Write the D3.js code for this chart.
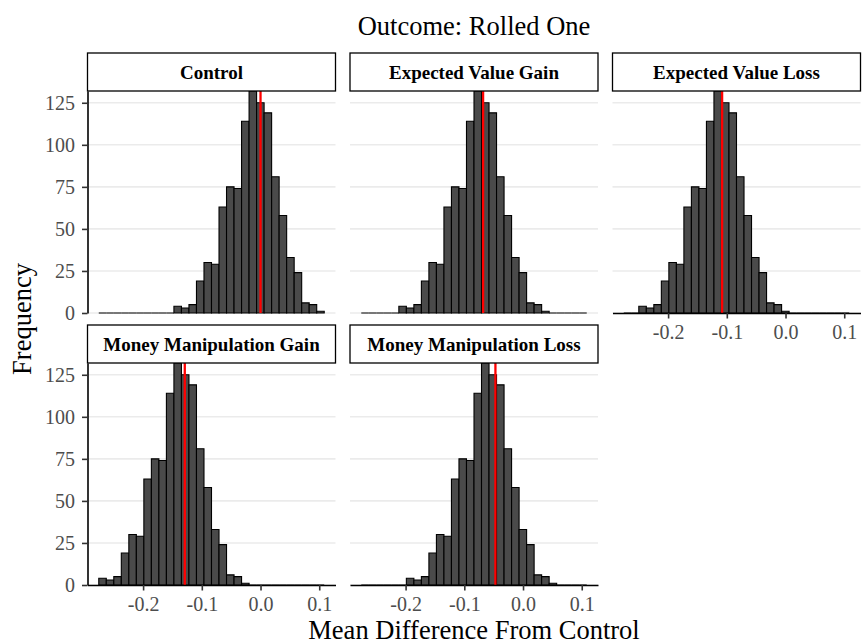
<!DOCTYPE html>
<html>
<head>
<meta charset="utf-8">
<script src="https://cdn.jsdelivr.net/npm/d3@7"></script>
<style>
body { margin: 0; background: #fff; }
svg, svg text { font-family: "Liberation Serif", "Times New Roman", Times, serif; }
</style>
</head>
<body>
<div id="chart"></div>
<script>
// histogram counts per facet, 30 bins shared by all facets
var panels = ["Control", "Expected Value Gain", "Expected Value Loss",
              "Money Manipulation Gain", "Money Manipulation Loss"];
var controlCounts = [0,0,0,0,0,0,0,0,0,0, 4,3,5,19,30,29,63,75,74,114,132,125,119,81,58,33,24,6,5,1];
var evGainCounts  = [0,0,0,0,0, 4,3,5,19,30,29,63,75,74,114,132,125,119,81,58,33,24,6,5,1, 0,0,0,0,0];
var evLossCounts  = [0,0, 4,3,5,19,30,29,63,75,74,114,132,125,119,81,58,33,24,6,5,1, 0,0,0,0,0,0,0,0];
var mmGainCounts  = [4,3,5,19,30,29,63,75,74,114,132,125,119,81,58,33,24,6,5,1, 0,0,0,0,0,0,0,0,0,0];
var mmLossCounts  = [0,0,0,0,0,0, 4,3,5,19,30,29,63,75,74,114,132,125,119,81,58,33,24,6,5,1, 0,0,0,0];
var counts = [controlCounts, evGainCounts, evLossCounts, mmGainCounts, mmLossCounts];
var observed = [0.000, -0.068, -0.108, -0.129, -0.047];
var binStart = -0.2755, binWidth = 0.0128, nBins = 30;
var xTicks = [-0.2, -0.1, 0.0, 0.1];
var yTicks = [0, 25, 50, 75, 100, 125];
var yMax = 132;

var serif = "'Liberation Serif', 'Times New Roman', Times, serif";
var width = 862, height = 644;
var left = 87.5, pw = 248, gapX = 14.5;
var stripTop = [53, 325], stripH = 38, ph = 222;

var svg = d3.select("#chart").append("svg")
            .attr("width", width)
            .attr("height", height)
            .attr("font-family", serif);

// ggplot style 5% expansion on the binned range
var x = d3.scaleLinear()
          .domain([binStart - 1.5 * binWidth, binStart + (nBins + 1.5) * binWidth])
          .range([0, pw]);
var y = d3.scaleLinear()
          .domain([0, yMax])
          .range([ph, 0]);

svg.append("text")
   .attr("x", left + (3 * pw + 2 * gapX) / 2)
   .attr("y", 35)
   .attr("text-anchor", "middle")
   .attr("font-family", serif)
   .style("font-size", "26.5px")
   .text("Outcome: Rolled One");

panels.forEach(function(name, i) {
    var col = i % 3, row = Math.floor(i / 3);
    var px = left + col * (pw + gapX);
    var sy = stripTop[row];
    var py = sy + stripH;
    var g = svg.append("g").attr("transform", "translate(" + px + "," + py + ")");

    g.selectAll(".grid").data(yTicks).enter().append("line")
        .attr("x1", 0).attr("x2", pw)
        .attr("y1", d => y(d)).attr("y2", d => y(d))
        .attr("stroke", "#EBEBEB")
        .attr("stroke-width", 1.6);

    g.selectAll(".bar").data(counts[i]).enter().append("path")
        .attr("d", function(d, j) {
            var x0 = x(binStart + j * binWidth), x1 = x(binStart + (j + 1) * binWidth);
            return "M" + x0 + "," + y(0) + "V" + y(d) + "H" + x1 + "V" + y(0) + "Z";
        })
        .attr("fill", "#4A4A4A")
        .attr("stroke", "#000")
        .attr("stroke-width", 1.1);

    g.append("line")
        .attr("x1", x(observed[i])).attr("x2", x(observed[i]))
        .attr("y1", 0).attr("y2", ph)
        .attr("stroke", "#FF0000")
        .attr("stroke-width", 2.3);

    if (col == 0) {
        var ya = g.append("g")
            .call(d3.axisLeft(y).tickValues(yTicks).tickSize(5.5).tickSizeOuter(0).tickPadding(7));
        styleAxis(ya);
    }
    if (row == 1 || col == 2) {
        var xa = g.append("g")
            .attr("transform", "translate(0," + ph + ")")
            .call(d3.axisBottom(x).tickValues(xTicks).tickSize(5.5).tickSizeOuter(0).tickPadding(6.5)
                    .tickFormat(d => d.toFixed(1)));
        styleAxis(xa);
    }

    svg.append("rect")
        .attr("x", px).attr("y", sy)
        .attr("width", pw).attr("height", stripH)
        .attr("fill", "#fff")
        .attr("stroke", "#000")
        .attr("stroke-width", 1.3);
    svg.append("text")
        .attr("x", px + pw / 2)
        .attr("y", sy + stripH / 2)
        .attr("dy", "0.35em")
        .attr("text-anchor", "middle")
        .attr("font-family", serif)
        .style("font-size", "19px")
        .style("font-weight", "bold")
        .text(name);
});

function styleAxis(a) {
    a.attr("font-family", serif);
    a.select(".domain").attr("stroke", "#000").attr("stroke-width", 1.6);
    a.selectAll(".tick line").attr("stroke", "#333").attr("stroke-width", 1.6);
    a.selectAll(".tick text")
        .attr("fill", "#4D4D4D")
        .attr("font-family", serif)
        .style("font-size", "20px");
}

svg.append("text")
   .attr("x", left + (3 * pw + 2 * gapX) / 2)
   .attr("y", 639)
   .attr("text-anchor", "middle")
   .attr("font-family", serif)
   .style("font-size", "26.5px")
   .text("Mean Difference From Control");

svg.append("text")
   .attr("transform", "translate(31," + (stripTop[0] + stripTop[1] + stripH + ph) / 2 + ") rotate(-90)")
   .attr("text-anchor", "middle")
   .attr("font-family", serif)
   .style("font-size", "26.5px")
   .text("Frequency");
</script>
</body>
</html>
